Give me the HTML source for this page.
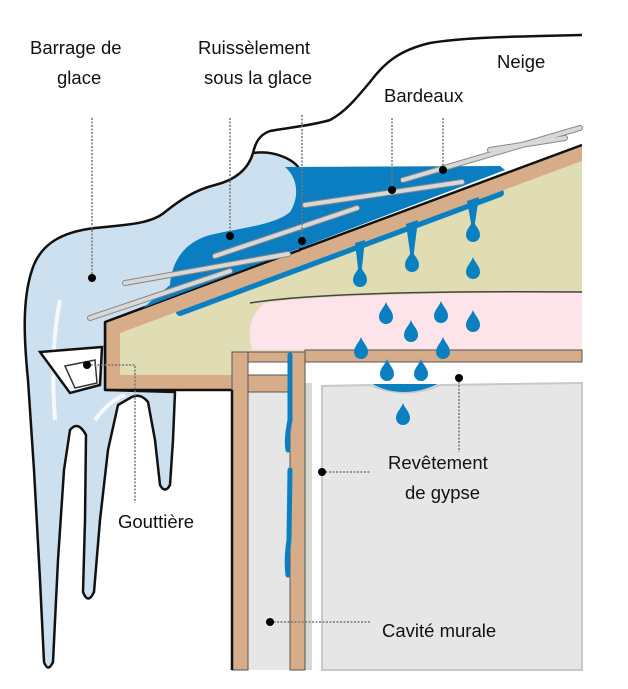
<!DOCTYPE html>
<html><head><meta charset="utf-8"><style>
html,body{margin:0;padding:0;background:#fff;}
svg{display:block;}
text{font-family:"Liberation Sans",sans-serif;font-size:18.5px;fill:#111;}
</style></head><body>
<svg width="628" height="689" viewBox="0 0 628 689" xmlns="http://www.w3.org/2000/svg">
<defs>
<path id="d" d="M0,-13 C2,-7 7,-4 7,2 A7,7 0 1 1 -7,2 C-7,-4 -2,-7 0,-13 Z" fill="#0a80c0"/>
</defs>
<rect x="248" y="392" width="42" height="278" fill="#e6e6e6"/>
<rect x="305" y="383" width="7" height="287" fill="#d8d8d8"/>
<path d="M322,386 L370,385 Q405,400 440,385 L582,383 L582,670 L322,670 Z" fill="#e6e6e6" stroke="#c8c8c8" stroke-width="2"/>
<path d="M120,332 L582,161 L582,352 L232,352 L232,375 L120,375 Z" fill="#e0dcb4"/>
<path d="M265,303 Q330,293 582,292 L582,350 L252,350 Q244,318 265,303 Z" fill="#fde3ea"/>
<path d="M250,303 Q330,290 582,292" fill="none" stroke="#444" stroke-width="1.5"/>
<path d="M180,312 L500,193" stroke="#0a80c0" stroke-width="8" fill="none" stroke-linecap="round"/>
<path d="M105,322 L582,145 L582,161 L120,333 L120,375 L232,375 L232,390 L105,390 Z" fill="#d7ad89"/>
<path d="M105,322 L582,145" stroke="#111" stroke-width="2.5"/>
<path d="M105,322 L105,390 L232,390" fill="none" stroke="#111" stroke-width="2.5"/>
<rect x="305" y="350" width="277" height="12" fill="#d7ad89" stroke="#555" stroke-width="1"/>
<rect x="232" y="352" width="73" height="10" fill="#d7ad89" stroke="#555" stroke-width="1"/>
<rect x="232" y="375" width="73" height="17" fill="#d7ad89" stroke="#555" stroke-width="1"/>
<rect x="232" y="352" width="16" height="318" fill="#d7ad89" stroke="#555" stroke-width="1"/>
<rect x="290" y="352" width="15" height="318" fill="#d7ad89" stroke="#555" stroke-width="1"/>
<line x1="232" y1="390" x2="232" y2="670" stroke="#111" stroke-width="2.5"/>
<path d="M253,153 C248,170 235,180 215,185 C195,190 180,200 165,212 C150,225 120,225 95,228 C60,232 40,245 32,270 C22,300 24,340 28,380 L34,470 L40,580 L44,662 Q48,673 53,662 L58,560 L64,470 L70,430 Q78,420 86,435 L85,520 L83,592 Q88,605 94,592 L100,520 L108,450 L118,405 L130,398 Q140,392 148,402 L155,440 L160,485 Q165,494 170,485 L173,440 L175,392 L105,390 L105,322 L255,266 L300,250 L300,170 C295,160 275,150 253,153 Z" fill="#cde0ef" stroke="#111" stroke-width="2.5" stroke-linejoin="round"/>
<path d="M60,300 Q50,350 55,420 M95,420 Q110,400 125,395" stroke="#fff" stroke-width="4" fill="none" opacity="0.8"/>
<path d="M253,153 C255,145 258,135 270,131 C285,128 310,126 330,120 C345,112 355,100 370,82 C385,62 400,50 430,43 C460,38 500,37 540,36 L582,35" fill="none" stroke="#111" stroke-width="2.5"/>
<path d="M143,308 L505,170 L500,166 L285,167 C300,180 298,200 290,212 C275,225 240,228 210,235 C185,242 172,260 170,285 Z" fill="#0a7ec0"/>
<g fill="#0a80c0">
<path d="M355,243 L365,240 L361.5,272 L358.5,272 Z"/>
<path d="M406,224 L418,220 L413.5,256 L410.5,256 Z"/>
<path d="M467,201 L479,197 L474.5,226 L471.5,226 Z"/>
</g>
<use href="#d" transform="translate(360,278)"/>
<use href="#d" transform="translate(412,263)"/>
<use href="#d" transform="translate(473,233)"/>
<use href="#d" transform="translate(473,270)"/>
<use href="#d" transform="translate(386,315)"/>
<use href="#d" transform="translate(441,314)"/>
<use href="#d" transform="translate(473,323)"/>
<use href="#d" transform="translate(411,333)"/>
<use href="#d" transform="translate(361,350)"/>
<use href="#d" transform="translate(443,350)"/>
<use href="#d" transform="translate(387,372)"/>
<use href="#d" transform="translate(421,372)"/>
<use href="#d" transform="translate(403,416)"/>
<path d="M372,384 Q403,400 438,384 Z" fill="#0a80c0"/>
<path d="M290,355 L290,420 Q286,440 288,450 M290,470 L289,540 Q286,560 288,575" stroke="#0a80c0" stroke-width="5" fill="none" stroke-linecap="round"/>
<g stroke="#888" stroke-width="6" stroke-linecap="round"><line x1="90" y1="318" x2="230" y2="271"/><line x1="125" y1="283" x2="288" y2="254"/><line x1="215" y1="256" x2="357" y2="208"/><line x1="305" y1="205" x2="462" y2="182"/><line x1="403" y1="180" x2="580" y2="128"/><line x1="490" y1="150" x2="565" y2="138"/></g>
<g stroke="#d8d8d8" stroke-width="4" stroke-linecap="round"><line x1="90" y1="318" x2="230" y2="271"/><line x1="125" y1="283" x2="288" y2="254"/><line x1="215" y1="256" x2="357" y2="208"/><line x1="305" y1="205" x2="462" y2="182"/><line x1="403" y1="180" x2="580" y2="128"/><line x1="490" y1="150" x2="565" y2="138"/></g>
<path d="M40,352 L102,347 L100,385 L70,393 Z" fill="#fff" stroke="#111" stroke-width="2.5"/>
<path d="M65,366 L95,360 L97,383 L75,388 Z" fill="none" stroke="#333" stroke-width="1.5"/>
<g stroke="#777" stroke-width="1.5" stroke-dasharray="2,1.5" fill="none">
<path d="M92,118 V278"/><path d="M230,118 V236"/><path d="M302,115 V241"/><path d="M392,118 V190"/><path d="M443,118 V170"/>
<path d="M87,365 H135 V503"/><path d="M459,378 V452"/><path d="M322,472 H370"/><path d="M270,622 H370"/>
</g>
<g fill="#000">
<circle cx="92" cy="278" r="4"/><circle cx="230" cy="236" r="4"/><circle cx="302" cy="241" r="4"/><circle cx="392" cy="190" r="4"/><circle cx="443" cy="170" r="4"/>
<circle cx="87" cy="365" r="4"/><circle cx="459" cy="378" r="4"/><circle cx="322" cy="472" r="4"/><circle cx="270" cy="622" r="4"/>
</g>
<text x="30" y="54">Barrage de</text>
<text x="57" y="84">glace</text>
<text x="198" y="54">Ruissèlement</text>
<text x="204" y="84">sous la glace</text>
<text x="497" y="68">Neige</text>
<text x="384" y="102">Bardeaux</text>
<text x="118" y="528">Gouttière</text>
<text x="388" y="469">Revêtement</text>
<text x="405" y="499">de gypse</text>
<text x="382" y="637">Cavité murale</text>
</svg>
</body></html>
